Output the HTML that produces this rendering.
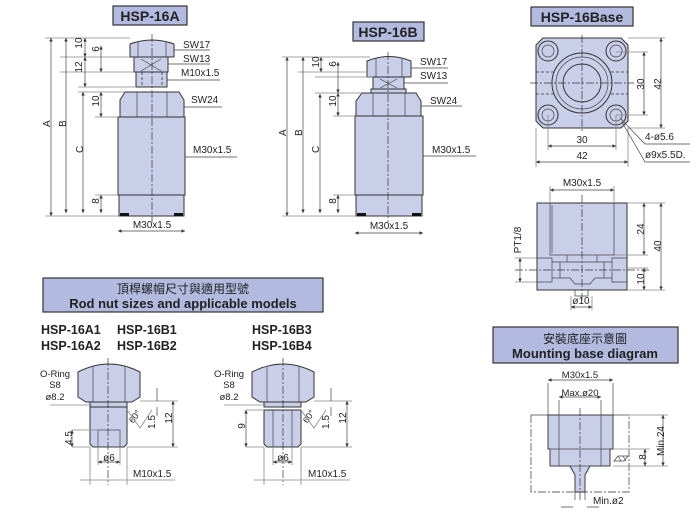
<!DOCTYPE html>
<html><head><meta charset="utf-8"><style>
html,body{margin:0;padding:0;background:#fff}
svg{display:block}
text{font-family:"Liberation Sans","Noto Sans CJK TC",sans-serif;fill:#222}
.b{font-weight:bold}
.f{fill:#c9cee9;stroke:#333;stroke-width:1}
.l{stroke:#444;stroke-width:.7;fill:none}
.g{stroke:#888;stroke-width:.8;fill:none}
.c{stroke:#333;stroke-width:.7;stroke-dasharray:8 2 2 2;fill:none}
.d{stroke:#333;stroke-width:.8;stroke-dasharray:3 2;fill:none}
.box{fill:#b2bae0;stroke:#333;stroke-width:1.2}
</style></head><body>
<svg width="700" height="515" viewBox="0 0 700 515" xmlns="http://www.w3.org/2000/svg">
<defs><marker id="a" viewBox="0 0 6 6" refX="6" refY="3" markerWidth="5" markerHeight="5" orient="auto-start-reverse"><path d="M0,0L6,3L0,6z" fill="#333"/></marker></defs>

<!-- HSP-16A -->
<rect class="box" x="113" y="6" width="74" height="19"/>
<text class="b" x="150" y="21" font-size="14" text-anchor="middle">HSP-16A</text>
<path class="f" d="M130,44 Q152,36 174,44 L174,57 L130,57 Z"/>
<line class="l" x1="138" y1="42" x2="138" y2="57"/><line class="l" x1="166" y1="42" x2="166" y2="57"/>
<rect class="f" x="134" y="57" width="34" height="15"/>
<path class="l" d="M141,59 L161,71 M161,59 L141,71"/>
<rect class="f" x="136" y="72" width="31" height="15"/>
<path class="d" d="M142,72 V87 M162,72 V87"/>
<path class="f" d="M125,92 L179,92 L184,100 L184,117 L120,117 L120,100 Z"/>
<line class="l" x1="137" y1="92" x2="137" y2="117"/><line class="l" x1="167" y1="92" x2="167" y2="117"/>
<rect class="f" x="118" y="117" width="67" height="78"/>
<rect class="f" x="119" y="195" width="65" height="21"/>
<rect x="120" y="213" width="9" height="3" fill="#111"/><rect x="174" y="213" width="9" height="3" fill="#111"/>
<line class="c" x1="152" y1="34" x2="152" y2="222"/>
<g class="g">
<path d="M45,38H130 M60,57H130 M60,72H134 M78,87H136 M78,92H125 M95,117H118 M95,195H118 M45,216H119"/>
</g>
<g class="l" marker-start="url(#a)" marker-end="url(#a)">
<line x1="51" y1="38" x2="51" y2="216"/><line x1="66" y1="38" x2="66" y2="213"/>
<line x1="83" y1="92" x2="83" y2="213"/><line x1="85" y1="38" x2="85" y2="57"/>
<line x1="85" y1="57" x2="85" y2="87"/><line x1="101" y1="46" x2="101" y2="72"/>
<line x1="101" y1="92" x2="101" y2="117"/><line x1="101" y1="195" x2="101" y2="213"/>
<line x1="118" y1="231" x2="185" y2="231"/>
</g>
<g font-size="10">
<text x="46" y="131" transform="rotate(-90 46 127)">A</text>
<text x="62" y="131" transform="rotate(-90 62 127)">B</text>
<text x="79" y="157" transform="rotate(-90 79 153)">C</text>
<text x="82" y="51" transform="rotate(-90 78 47)" text-anchor="middle">10</text>
<text x="82" y="75" transform="rotate(-90 78 71)" text-anchor="middle">12</text>
<text x="98" y="56" transform="rotate(-90 95 52)" text-anchor="middle">6</text>
<text x="98" y="108" transform="rotate(-90 95 104)" text-anchor="middle">10</text>
<text x="98" y="208" transform="rotate(-90 95 204)" text-anchor="middle">8</text>
<text x="152" y="228" text-anchor="middle">M30x1.5</text>
<text x="183" y="48">SW17</text><text x="183" y="62">SW13</text><text x="181" y="76">M10x1.5</text>
<text x="191" y="103">SW24</text><text x="193" y="153">M30x1.5</text>
</g>
<g class="l"><path d="M174,50H210 M168,64H210 M167,80H220 M184,107H222 M185,157H237"/></g>

<!-- HSP-16B -->
<rect class="box" x="353" y="22" width="71" height="19"/>
<text class="b" x="388" y="37" font-size="14" text-anchor="middle">HSP-16B</text>
<path class="f" d="M367,61 Q389,52 411,61 L411,77 L367,77 Z"/>
<line class="l" x1="376" y1="59" x2="376" y2="77"/><line class="l" x1="402" y1="59" x2="402" y2="77"/>
<rect class="f" x="373" y="77" width="31" height="12"/>
<path class="l" d="M380,79 L397,88 M397,79 L380,88"/>
<rect class="f" x="371" y="89" width="35" height="4"/>
<path class="f" d="M362,93 L416,93 L421,101 L421,116 L356,116 L356,101 Z"/>
<line class="l" x1="373" y1="93" x2="373" y2="116"/><line class="l" x1="405" y1="93" x2="405" y2="116"/>
<rect class="f" x="355" y="116" width="68" height="79"/>
<rect class="f" x="356" y="195" width="66" height="21"/>
<rect x="357" y="213" width="9" height="3" fill="#111"/><rect x="412" y="213" width="9" height="3" fill="#111"/>
<line class="c" x1="388" y1="52" x2="388" y2="222"/>
<g class="g"><path d="M282,57H370 M298,72H367 M315,77H373 M315,93H362 M333,116H355 M333,195H355 M282,216H356"/></g>
<g class="l" marker-start="url(#a)" marker-end="url(#a)">
<line x1="287" y1="57" x2="287" y2="216"/><line x1="303" y1="57" x2="303" y2="213"/>
<line x1="320" y1="94" x2="320" y2="213"/><line x1="321" y1="57" x2="321" y2="72"/>
<line x1="338" y1="62" x2="338" y2="93"/><line x1="338" y1="93" x2="338" y2="116"/>
<line x1="338" y1="195" x2="338" y2="213"/><line x1="355" y1="233" x2="423" y2="233"/>
</g>
<g font-size="10">
<text x="282" y="140" transform="rotate(-90 282 136)">A</text>
<text x="298" y="140" transform="rotate(-90 298 136)">B</text>
<text x="315" y="157" transform="rotate(-90 315 153)">C</text>
<text x="318" y="69" transform="rotate(-90 315 65)" text-anchor="middle">10</text>
<text x="335" y="71" transform="rotate(-90 332 67)" text-anchor="middle">6</text>
<text x="335" y="108" transform="rotate(-90 332 104)" text-anchor="middle">10</text>
<text x="335" y="208" transform="rotate(-90 332 204)" text-anchor="middle">8</text>
<text x="389" y="229" text-anchor="middle">M30x1.5</text>
<text x="420" y="65">SW17</text><text x="420" y="79">SW13</text>
<text x="430" y="104">SW24</text><text x="432" y="153">M30x1.5</text>
</g>
<g class="l"><path d="M411,68H448 M404,83H448 M421,106H462 M423,156H476"/></g>

<!-- HSP-16Base -->
<rect class="box" x="531" y="7" width="102" height="19"/>
<text class="b" x="582" y="22" font-size="14" text-anchor="middle">HSP-16Base</text>
<path class="f" d="M543,38H621L628,45V121L621,128H543L536,121V45Z"/>
<path class="d" d="M536,72H628 M536,94H628"/>
<circle class="f" cx="582" cy="83" r="30" fill="#c9cee9"/>
<circle class="l" cx="582" cy="83" r="26"/>
<circle class="f" cx="582" cy="83" r="19"/>
<g class="f"><circle cx="548" cy="51" r="10"/><circle cx="616" cy="51" r="10"/><circle cx="548" cy="115" r="10"/><circle cx="616" cy="115" r="10"/></g>
<g class="l"><circle cx="548" cy="51" r="6"/><circle cx="616" cy="51" r="6"/><circle cx="548" cy="115" r="6"/><circle cx="616" cy="115" r="6"/></g>
<line class="c" x1="530" y1="83" x2="634" y2="83"/><line class="c" x1="582" y1="35" x2="582" y2="131"/>
<g class="g"><path d="M616,52H648 M616,115H648 M628,38H665 M628,128H665 M548,115V150 M616,115V150 M536,128V167 M628,128V167"/></g>
<g class="l" marker-start="url(#a)" marker-end="url(#a)">
<line x1="644" y1="52" x2="644" y2="115"/><line x1="661" y1="38" x2="661" y2="128"/>
<line x1="548" y1="146" x2="616" y2="146"/><line x1="536" y1="162" x2="628" y2="162"/>
</g>
<g class="l"><path d="M620,118L645,144H690 M622,122L645,162H690"/></g>
<g font-size="10">
<text x="640" y="88" transform="rotate(-90 640 84)" text-anchor="middle">30</text>
<text x="657" y="88" transform="rotate(-90 657 84)" text-anchor="middle">42</text>
<text x="582" y="143" text-anchor="middle">30</text>
<text x="582" y="159" text-anchor="middle">42</text>
<text x="645" y="140">4-ø5.6</text><text x="645" y="158">ø9x5.5D.</text>
<text x="582" y="186" text-anchor="middle">M30x1.5</text>
<text x="640" y="233" transform="rotate(-90 640 229)" text-anchor="middle">24</text>
<text x="657" y="250" transform="rotate(-90 657 246)" text-anchor="middle">40</text>
<text x="640" y="283" transform="rotate(-90 640 279)" text-anchor="middle">10</text>
<text x="517" y="244" transform="rotate(-90 517 240)" text-anchor="middle">PT1/8</text>
<text x="581" y="304" text-anchor="middle">ø10</text>
</g>
<rect class="f" x="537" y="203" width="90" height="87"/>
<path class="l" d="M550,203V255H614V203 M552,205V253"/>
<path class="l" d="M537,258H552V282H537 M627,258H612V282H627 M552,262L560,262V278L552,278 M612,262L604,262V278L612,278 M560,262H604 M560,278H570L575,284H590L595,278H604 M567,255V262 M597,255V262"/>
<path class="l" d="M575,290V296H588V290"/>
<line class="c" x1="582" y1="195" x2="582" y2="300"/><line class="c" x1="515" y1="270" x2="650" y2="270"/>
<g class="g"><path d="M550,186V203 M614,186V203 M627,203H665 M614,255H648 M627,268H648 M627,290H665 M515,258H537 M515,282H537 M571,296V310 M592,296V310"/></g>
<g class="l" marker-start="url(#a)" marker-end="url(#a)">
<line x1="550" y1="190" x2="614" y2="190"/><line x1="644" y1="203" x2="644" y2="255"/>
<line x1="661" y1="203" x2="661" y2="290"/><line x1="644" y1="268" x2="644" y2="290"/>
<line x1="520" y1="258" x2="520" y2="282"/><line x1="571" y1="307" x2="592" y2="307"/>
</g>

<!-- Rod nut sizes -->
<rect class="box" x="43" y="278" width="280" height="34"/>
<text x="183" y="293" font-size="12" text-anchor="middle">頂桿螺帽尺寸與適用型號</text>
<text class="b" x="183" y="308" font-size="13" text-anchor="middle">Rod nut sizes and applicable models</text>
<g class="b" font-size="12.5">
<text x="41" y="334">HSP-16A1</text><text x="117" y="334">HSP-16B1</text>
<text x="41" y="350">HSP-16A2</text><text x="117" y="350">HSP-16B2</text>
<text x="252" y="334">HSP-16B3</text><text x="252" y="350">HSP-16B4</text>
</g>

<!-- nut 1 -->
<path class="f" d="M78,372Q109,356 140,372V397L132,402H86L78,397Z"/>
<line class="l" x1="93" y1="366" x2="93" y2="402"/><line class="l" x1="125" y1="366" x2="125" y2="402"/>
<rect class="f" x="90" y="402" width="37" height="5"/>
<path class="f" d="M90,407H127V444L124,447H93L90,444Z"/>
<rect class="l" x="98" y="430" width="22" height="17"/>
<line class="c" x1="108" y1="358" x2="108" y2="485"/>
<!-- nut 2 -->
<path class="f" d="M252,372Q283,356 314,372V397L306,402H260L252,397Z"/>
<line class="l" x1="267" y1="366" x2="267" y2="402"/><line class="l" x1="299" y1="366" x2="299" y2="402"/>
<rect class="f" x="264" y="402" width="37" height="5"/>
<path class="f" d="M264,410H301V444L298,447H267L264,444Z"/>
<line class="l" x1="273" y1="410" x2="273" y2="447"/><line class="l" x1="292" y1="410" x2="292" y2="447"/>
<line class="c" x1="283" y1="358" x2="283" y2="485"/>

<g font-size="9.5">
<text x="55" y="377" text-anchor="middle">O-Ring</text><text x="55" y="388" text-anchor="middle">S8</text><text x="55" y="400" text-anchor="middle">ø8.2</text>
<text x="229" y="377" text-anchor="middle">O-Ring</text><text x="229" y="388" text-anchor="middle">S8</text><text x="229" y="400" text-anchor="middle">ø8.2</text>
</g>
<g font-size="10">
<text x="109" y="461" text-anchor="middle">ø6</text><text x="133" y="477">M10x1.5</text>
<text x="283" y="461" text-anchor="middle">ø6</text><text x="308" y="477">M10x1.5</text>
<text x="68" y="442" transform="rotate(-90 68 438)" text-anchor="middle">4.5</text>
<text x="154" y="429" transform="rotate(-90 151 425)" text-anchor="middle">1.5</text>
<text x="171" y="425" transform="rotate(-90 168 421)" text-anchor="middle">12</text>
<text x="244" y="433" transform="rotate(-90 241 429)" text-anchor="middle">9</text>
<text x="328" y="429" transform="rotate(-90 325 425)" text-anchor="middle">1.5</text>
<text x="345" y="425" transform="rotate(-90 342 421)" text-anchor="middle">12</text>
<text x="134" y="420" transform="rotate(-55 134 416)" text-anchor="middle" font-size="9">60°</text>
<text x="308" y="420" transform="rotate(-55 308 416)" text-anchor="middle" font-size="9">60°</text>
</g>
<g class="g"><path d="M50,405H92 M140,401H178 M127,447H178 M72,430H98 M72,447H90 M98,447V465 M120,447V465 M90,447V485 M127,447V485 M80,480H175
M224,405H266 M314,401H352 M301,447H352 M246,410H264 M246,447H264 M273,447V465 M292,447V465 M264,447V485 M301,447V485 M254,480H350
M127,410L140,428L152,410 M301,410L314,428L326,410"/></g>
<g class="l" marker-start="url(#a)" marker-end="url(#a)">
<line x1="72" y1="430" x2="72" y2="447"/><line x1="173" y1="401" x2="173" y2="447"/>
<line x1="98" y1="462" x2="120" y2="462"/><line x1="246" y1="410" x2="246" y2="447"/>
<line x1="347" y1="401" x2="347" y2="447"/><line x1="273" y1="462" x2="292" y2="462"/>
</g>
<path class="l" d="M157,388V401 M157,407V416 M331,388V401 M331,407V416"/>

<!-- Mounting base -->
<rect class="box" x="493" y="327" width="185" height="36"/>
<text x="585" y="343" font-size="12" text-anchor="middle">安裝底座示意圖</text>
<text class="b" x="585" y="358" font-size="13" text-anchor="middle">Mounting base diagram</text>
<text x="580" y="378" font-size="9.5" text-anchor="middle">M30x1.5</text>
<text x="580" y="396" font-size="9.5" text-anchor="middle">Max.ø20</text>
<path class="f" d="M548,415H613V449H610V466H590L585,475V492H575V475L570,466H550V449H548Z" stroke="none"/>
<path class="l" d="M548,383V449H613V383 M559,400V466 M601,400V466 M550,449V466H610V449 M570,466L575,475V500 M590,466L585,475V500"/>
<path class="c" d="M531,415V492H629V415"/>
<path class="l" d="M531,415H629"/>
<line class="c" x1="580" y1="408" x2="580" y2="500"/>
<g class="g"><path d="M613,449H650 M613,466H668 M629,415H668"/></g>
<g class="l" marker-start="url(#a)" marker-end="url(#a)">
<line x1="548" y1="380" x2="613" y2="380"/><line x1="559" y1="397" x2="601" y2="397"/>
<line x1="645" y1="449" x2="645" y2="466"/><line x1="663" y1="415" x2="663" y2="466"/>
</g>
<path class="l" d="M561,507H573 M587,507H599 M614,461L618,456H628L624,461ZM618,456l3,5M623,456l3,5"/>
<g font-size="10">
<text x="642" y="461" transform="rotate(-90 642 457)" text-anchor="middle">8</text>
<text x="660" y="445" transform="rotate(-90 660 441)" text-anchor="middle">Min.24</text>
<text x="593" y="504">Min.ø2</text>
</g>
</svg>
</body></html>
